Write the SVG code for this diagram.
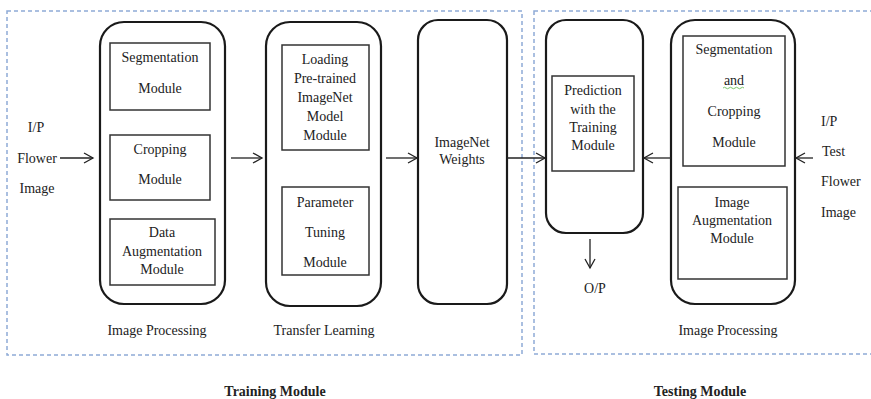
<svg xmlns="http://www.w3.org/2000/svg" width="871" height="399" viewBox="0 0 871 399">
<defs>
<marker id="arr" markerWidth="12" markerHeight="12" refX="10" refY="6" orient="auto" markerUnits="userSpaceOnUse">
<path d="M1,1 L10,6 L1,11" fill="none" stroke="#222" stroke-width="1.3"/>
</marker>
<style>
text{font-family:"Liberation Serif","Times New Roman",serif;font-size:14px;fill:#222;text-anchor:middle}
.b{font-weight:bold}
.s{text-anchor:start}
.dash{fill:none;stroke:#8eaad6;stroke-width:1.5;stroke-dasharray:4 3}
.outer{fill:#fff;stroke:#1a1a1a;stroke-width:2.2}
.inner{fill:#fff;stroke:#333;stroke-width:1.5}
.conn{stroke:#222;stroke-width:1.3;fill:none;marker-end:url(#arr)}
</style>
</defs>
<rect width="871" height="399" fill="#fff"/>
<g id="training-module">
<rect class="dash" x="7" y="11" width="515" height="344"/>
<text class="b" x="275" y="396">Training Module</text>
</g>
<g id="testing-module">
<rect class="dash" x="534" y="11" width="345" height="343"/>
<text class="b" x="700" y="396">Testing Module</text>
</g>
<g id="input-train">
<text x="36" y="132">I/P</text>
<text x="37" y="163">Flower</text>
<text x="37" y="193">Image</text>
</g>
<g id="image-processing-train">
<rect class="outer" x="100" y="22" width="125" height="282" rx="24"/>
<rect class="inner" x="110" y="43" width="100" height="67"/>
<text x="160" y="62">Segmentation</text>
<text x="160" y="93">Module</text>
<rect class="inner" x="110" y="135" width="100" height="65"/>
<text x="160" y="154">Cropping</text>
<text x="160" y="184">Module</text>
<rect class="inner" x="110" y="219" width="105" height="66"/>
<text x="162" y="237">Data</text>
<text x="162" y="256">Augmentation</text>
<text x="162" y="274">Module</text>
<text x="157" y="335">Image Processing</text>
</g>
<g id="transfer-learning">
<rect class="outer" x="266" y="22" width="115" height="284" rx="24"/>
<rect class="inner" x="282" y="45" width="87" height="105"/>
<text x="325" y="64">Loading</text>
<text x="325" y="83">Pre-trained</text>
<text x="325" y="102">ImageNet</text>
<text x="325" y="121">Model</text>
<text x="325" y="140">Module</text>
<rect class="inner" x="282" y="187" width="87" height="88"/>
<text x="325" y="207">Parameter</text>
<text x="325" y="237">Tuning</text>
<text x="325" y="267">Module</text>
<text x="324" y="335">Transfer Learning</text>
</g>
<g id="imagenet-weights">
<rect class="outer" x="418" y="20" width="89" height="284" rx="20"/>
<text x="462" y="147">ImageNet</text>
<text x="462" y="164">Weights</text>
</g>
<g id="prediction">
<rect class="outer" x="546" y="20" width="97" height="213" rx="20"/>
<rect class="inner" x="552" y="76" width="82" height="95"/>
<text x="593" y="95">Prediction</text>
<text x="593" y="114">with the</text>
<text x="593" y="132">Training</text>
<text x="593" y="150">Module</text>
</g>
<g id="output">
<text x="595" y="293">O/P</text>
</g>
<g id="image-processing-test">
<rect class="outer" x="671" y="20" width="124" height="284" rx="24"/>
<rect class="inner" x="683" y="36" width="102" height="130"/>
<text x="734" y="54">Segmentation</text>
<text x="734" y="85">and</text>
<path d="M723,88 q1.5,-1.5 3,0 t3,0 t3,0 t3,0 t3,0 t3,0 t3,0" fill="none" stroke="#6bbf5a" stroke-width="0.9"/>
<text x="734" y="116">Cropping</text>
<text x="734" y="147">Module</text>
<rect class="inner" x="678" y="187" width="109" height="92"/>
<text x="732" y="207">Image</text>
<text x="732" y="225">Augmentation</text>
<text x="732" y="243">Module</text>
<text x="728" y="335">Image Processing</text>
</g>
<g id="input-test">
<text class="s" x="821" y="126">I/P</text>
<text class="s" x="822" y="156">Test</text>
<text class="s" x="821" y="186">Flower</text>
<text class="s" x="821" y="217">Image</text>
</g>
<g id="connectors">
<line class="conn" x1="60" y1="158" x2="93" y2="158"/>
<line class="conn" x1="231" y1="158" x2="262" y2="158"/>
<line class="conn" x1="386" y1="158" x2="417" y2="158"/>
<line class="conn" x1="507" y1="158" x2="545" y2="158"/>
<line class="conn" x1="671" y1="158" x2="644" y2="158"/>
<line class="conn" x1="813" y1="158" x2="796" y2="158"/>
<line class="conn" x1="590" y1="239" x2="590" y2="268"/>
</g>
</svg>
